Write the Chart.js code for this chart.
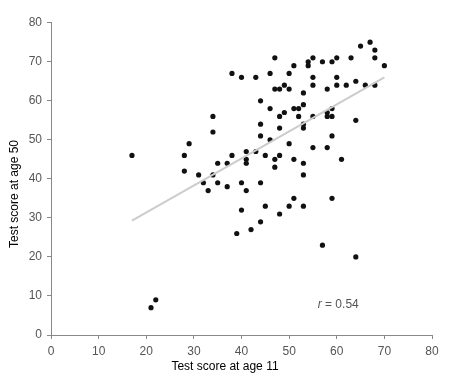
<!DOCTYPE html>
<html>
<head>
<meta charset="utf-8">
<script src="https://cdn.jsdelivr.net/npm/chart.js@4/dist/chart.umd.min.js"></script>
<style>
html,body{margin:0;padding:0;background:#fff;}
#wrap{position:relative;width:466px;height:382px;}
</style>
</head>
<body>
<div id="wrap"><canvas id="c" width="466" height="382"></canvas></div>
<script>
// Scores at age 11 (x) and age 50 (y)
const age11 = [17,21,22,28,28,29,31,32,33,34,
               34,34,35,35,37,37,38,38,39,40,
               40,40,41,41,41,41,42,43,43,44,
               44,44,44,44,45,45,46,46,46,47,
               47,47,47,48,48,48,48,48,49,49,
               50,50,50,50,51,51,51,51,52,52,
               53,53,53,53,53,53,53,
               54,54,55,55,55,55,55,57,57,58,58,58,58,59,59,59,59,59,60,60,60,61,62,63,64,64,64,65,66,67,68,68,68,70];
const age50 = [46,7,9,46,42,49,41,39,37,56,
               52,41,44,39,44,38,46,67,26,66,
               39,32,47,45,44,37,27,66,47,60,
               54,51,39,29,46,33,67,58,50,71,
               63,45,43,63,56,53,46,31,64,57,
               67,63,49,33,69,58,45,35,58,56,
               62,59,54,53,44,41,33,
               70,69,71,66,64,56,48,70,23,63,57,56,48,70,58,56,51,35,71,66,64,45,64,71,65,55,20,74,64,75,73,71,64,69];
// Regression line end points
const fitX = [17, 70];
const fitY = [29.3, 66];
const xTicks = [0,10,20,30,40,50,60,70,80];
const yTicks = [0,10,20,30,40,50,60,70,80];
const rLabel = 'r';
const rValue = ' = 0.54';
const xTitle = 'Test score at age 11';
const yTitle = 'Test score at age 50';

const points = age11.map((x,i)=>({x:x,y:age50[i]}));
const fit = fitX.map((x,i)=>({x:x,y:fitY[i]}));

Chart.defaults.font.family = '"Liberation Sans", Arial, sans-serif';
Chart.defaults.font.size = 12;

const textPlugin = {
  id:'texts',
  afterDraw(chart){
    const ctx = chart.ctx;
    const xs = chart.scales.x, ys = chart.scales.y;
    ctx.save();
    ctx.fillStyle = '#000';
    ctx.font = '12px "Liberation Sans", Arial, sans-serif';
    ctx.textAlign = 'center';
    ctx.textBaseline = 'middle';
    ctx.fillText(xTitle, 225, 367);
    ctx.translate(15, 194);
    ctx.rotate(-Math.PI/2);
    ctx.fillText(yTitle, 0, 0);
    ctx.restore();
    // r label
    ctx.save();
    ctx.fillStyle = '#555';
    ctx.textBaseline = 'middle';
    ctx.textAlign = 'left';
    const px = xs.getPixelForValue(56.0);
    const py = ys.getPixelForValue(7.7);
    ctx.font = 'italic 12px "Liberation Sans", Arial, sans-serif';
    ctx.fillText(rLabel, px, py);
    const w = ctx.measureText(rLabel).width;
    ctx.font = '12px "Liberation Sans", Arial, sans-serif';
    ctx.fillText(rValue, px + w, py);
    ctx.restore();
  }
};

new Chart(document.getElementById('c'), {
  type:'scatter',
  data:{
    datasets:[
      {type:'line', data:fit, borderColor:'#cccccc', borderWidth:2, pointRadius:0, fill:false, order:0},
      {data:points, backgroundColor:'#111', borderColor:'#111', borderWidth:0, pointRadius:2.6, order:1}
    ]
  },
  options:{
    responsive:false,
    animation:false,
    events:[],
    layout:{padding:{left:0, top:22.7, right:34, bottom:0}},
    plugins:{legend:{display:false}, tooltip:{enabled:false}},
    scales:{
      x:{
        type:'linear', min:0, max:80,
        afterBuildTicks(s){ s.ticks = xTicks.map(v=>({value:v})); },
        afterFit(s){ s.height = 47; },
        grid:{drawOnChartArea:false, drawTicks:true, tickLength:4, color:'#888'},
        border:{display:true, color:'#888', width:1},
        ticks:{color:'#555', padding:5, maxRotation:0, font:{size:12}}
      },
      y:{
        type:'linear', min:0, max:80,
        afterBuildTicks(s){ s.ticks = yTicks.map(v=>({value:v})); },
        afterFit(s){ s.width = 51; },
        grid:{drawOnChartArea:false, drawTicks:true, tickLength:4, color:'#888'},
        border:{display:true, color:'#888', width:1},
        ticks:{color:'#555', padding:5, font:{size:12}}
      }
    }
  },
  plugins:[textPlugin]
});
</script>
</body>
</html>
